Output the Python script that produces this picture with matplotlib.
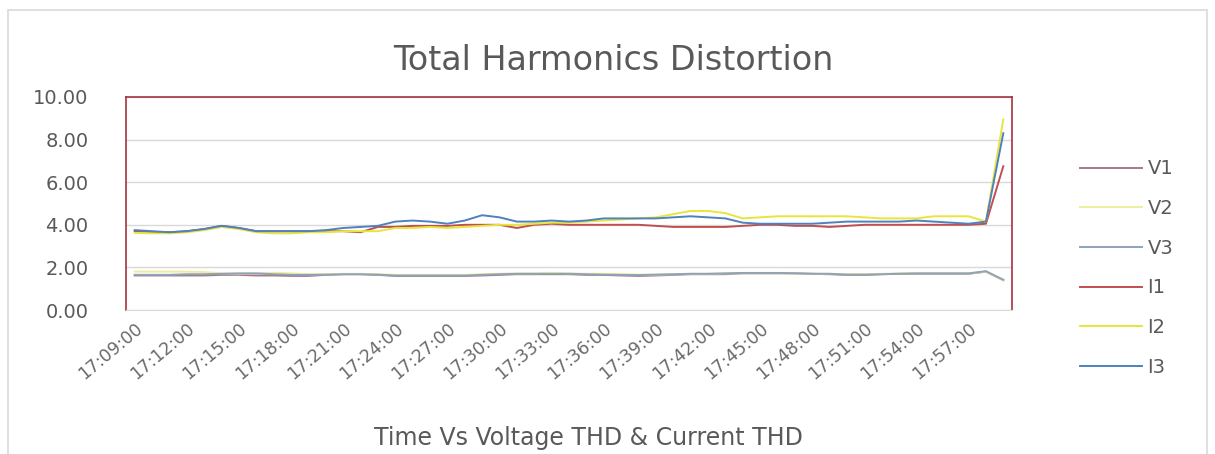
import matplotlib
matplotlib.use("Agg")
import matplotlib.pyplot as plt
from matplotlib.patches import Rectangle

plt.rcParams['font.family'] = ['DejaVu Sans']

times = [f"17:{m:02d}:00" for m in range(9, 60)]  # one reading per minute

V1 = [1.62, 1.62, 1.62, 1.62, 1.62, 1.65, 1.65, 1.62, 1.62, 1.60,
      1.60, 1.65, 1.68, 1.68, 1.65, 1.60, 1.60, 1.60, 1.60, 1.60,
      1.62, 1.65, 1.68, 1.68, 1.68, 1.68, 1.65, 1.65, 1.62, 1.60,
      1.62, 1.65, 1.68, 1.68, 1.68, 1.72, 1.72, 1.72, 1.72, 1.70,
      1.68, 1.65, 1.65, 1.68, 1.70, 1.70, 1.70, 1.70, 1.70, 1.80, 1.40]
V2 = [1.80, 1.80, 1.80, 1.80, 1.78, 1.72, 1.70, 1.72, 1.75, 1.72,
      1.68, 1.68, 1.70, 1.70, 1.68, 1.65, 1.65, 1.65, 1.65, 1.65,
      1.68, 1.70, 1.72, 1.72, 1.75, 1.72, 1.70, 1.70, 1.68, 1.66,
      1.66, 1.68, 1.70, 1.70, 1.72, 1.72, 1.72, 1.72, 1.70, 1.70,
      1.70, 1.68, 1.68, 1.70, 1.72, 1.72, 1.72, 1.72, 1.72, 1.80, 1.40]
V3 = [1.65, 1.65, 1.65, 1.68, 1.68, 1.70, 1.72, 1.72, 1.68, 1.65,
      1.65, 1.66, 1.68, 1.68, 1.66, 1.62, 1.62, 1.62, 1.62, 1.62,
      1.65, 1.68, 1.70, 1.70, 1.70, 1.70, 1.68, 1.66, 1.65, 1.64,
      1.66, 1.68, 1.70, 1.70, 1.72, 1.74, 1.74, 1.74, 1.72, 1.70,
      1.70, 1.66, 1.66, 1.68, 1.70, 1.72, 1.72, 1.72, 1.72, 1.82, 1.42]
I1 = [3.70, 3.65, 3.65, 3.70, 3.80, 3.95, 3.85, 3.70, 3.70, 3.70,
      3.70, 3.70, 3.70, 3.65, 3.90, 3.90, 3.95, 3.95, 3.95, 4.00,
      4.00, 4.00, 3.85, 4.00, 4.05, 4.00, 4.00, 4.00, 4.00, 4.00,
      3.95, 3.90, 3.90, 3.90, 3.90, 3.95, 4.00, 4.00, 3.95, 3.95,
      3.90, 3.95, 4.00, 4.00, 4.00, 4.00, 4.00, 4.00, 4.00, 4.05, 6.75]
I2 = [3.62, 3.60, 3.60, 3.65, 3.75, 3.90, 3.80, 3.65, 3.60, 3.60,
      3.65, 3.65, 3.70, 3.70, 3.70, 3.85, 3.85, 3.90, 3.85, 3.90,
      3.95, 4.00, 4.00, 4.05, 4.10, 4.10, 4.15, 4.20, 4.25, 4.30,
      4.35, 4.50, 4.65, 4.65, 4.55, 4.30, 4.35, 4.40, 4.40, 4.40,
      4.40, 4.40, 4.35, 4.30, 4.30, 4.30, 4.40, 4.40, 4.40, 4.15, 8.95]
I3 = [3.75, 3.70, 3.65, 3.70, 3.80, 3.95, 3.85, 3.70, 3.70, 3.70,
      3.70, 3.75, 3.85, 3.90, 3.95, 4.15, 4.20, 4.15, 4.05, 4.20,
      4.45, 4.35, 4.15, 4.15, 4.20, 4.15, 4.20, 4.30, 4.30, 4.30,
      4.30, 4.35, 4.40, 4.35, 4.30, 4.10, 4.05, 4.05, 4.05, 4.05,
      4.10, 4.15, 4.15, 4.15, 4.15, 4.20, 4.15, 4.10, 4.05, 4.15, 8.30]

series = [("V1", V1, "#a8788a"), ("V2", V2, "#eeee9a"), ("V3", V3, "#8ea2b8"),
          ("I1", I1, "#c0504d"), ("I2", I2, "#e6e63c"), ("I3", I3, "#4f81bd")]

tick_step = 3
yticks = [0, 2, 4, 6, 8, 10]

W, H = 1215, 454
fig = plt.figure(figsize=(W / 100, H / 100), dpi=100)
fig.patch.set_facecolor("white")

# chart-area border
fig.patches.append(Rectangle((8 / W, -0.05), (1207 - 8) / W, (H - 10) / H + 0.05,
                             transform=fig.transFigure, fill=False,
                             edgecolor="#d9d9d9", linewidth=1.2))

ax = fig.add_axes([126 / W, 1 - 310 / H, (1012 - 126) / W, (310 - 97) / H])
x = list(range(len(times)))
for name, vals, col in series:
    ax.plot(x, vals, color=col, linewidth=1.4, label=name)

ax.set_xlim(-0.5, len(times) - 0.5)
ax.set_ylim(0, 10)
ax.set_yticks(yticks)
ax.set_yticklabels([f"{v:.2f}" for v in yticks])
ax.set_xticks(x[::tick_step])
ax.set_xticklabels(times[::tick_step], rotation=40, ha="right",
                   rotation_mode="anchor")
ax.tick_params(axis="both", length=0, colors="#595959")
ax.tick_params(axis="y", pad=27, labelsize=14)
ax.tick_params(axis="x", pad=7, labelsize=12.5, labelcolor="#6a6a6a")
ax.grid(axis="y", color="#d9d9d9", linewidth=1)
ax.set_axisbelow(True)
for s in ("left", "top", "right"):
    ax.spines[s].set_color("#a3333d")
    ax.spines[s].set_linewidth(1.2)
ax.spines["bottom"].set_color("#d9d9d9")

fig.text(613 / W, 1 - 60 / H, "Total Harmonics Distortion", ha="center",
         va="center", fontsize=24, color="#595959")
fig.text(588 / W, 1 - 438 / H, "Time Vs Voltage THD & Current THD", ha="center",
         va="center", fontsize=17, color="#595959")

fig.legend(loc="upper left", bbox_to_anchor=(1062 / W, 1 - 142 / H),
           frameon=False, fontsize=14, handlelength=3.2, labelspacing=1.06,
           labelcolor="#595959", handletextpad=0.3)

fig.savefig("out.png", dpi=100)
